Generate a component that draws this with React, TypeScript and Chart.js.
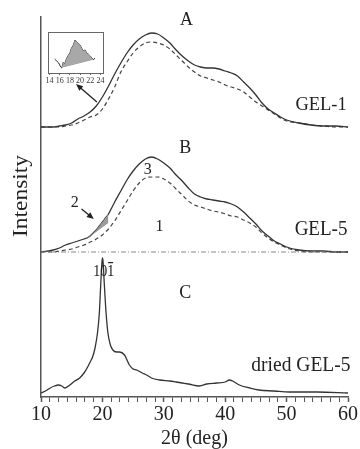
import React, { useEffect, useRef } from 'react';
import { Chart, registerables } from 'chart.js';

Chart.register(...registerables);

// ---------- data (relative intensities above each curve's own baseline) ----------
const OFFSET_A = 270; // GEL-1 stack offset
const OFFSET_B = 145; // GEL-5 stack offset
const OFFSET_C = 4;   // dried GEL-5 stack offset

const A_X = [10, 12, 13, 14, 15, 16, 17, 18, 19, 20, 21, 22, 23, 24, 25, 26, 27, 28, 29, 30, 31, 32, 33, 34, 35, 36, 37, 38, 39, 40, 41, 42, 43, 44, 45, 46, 47, 48, 49, 50, 52, 54, 56, 58, 60];
const A_SOLID = [0, 0, 1, 2, 4, 8, 11, 15, 21, 30, 41, 53, 64, 74, 82, 88, 92, 94, 93, 89, 84, 77, 71, 66, 62, 60, 59, 59, 58, 56, 54, 51, 45, 39, 32, 24, 18, 14, 10, 7, 4, 2, 1, 1, 0];
const A_DASHED = [0, 0, 0, 1, 2, 4, 7, 10, 12, 18, 28, 40, 55, 65, 74, 80, 84, 85, 84, 82, 78, 72, 66, 60, 55, 51, 49, 47, 45, 42, 40, 38, 35, 30, 25, 21, 17, 13, 9, 6, 4, 2, 1, 0, 0];

const B_X = [10, 12, 13, 14, 15, 16, 17, 17.5, 18, 18.5, 19, 19.5, 20, 20.5, 21, 21.5, 22, 23, 24, 25, 26, 27, 28, 29, 30, 31, 32, 33, 34, 35, 36, 37, 38, 39, 40, 41, 42, 43, 44, 45, 46, 47, 48, 49, 50, 52, 54, 56, 58, 60];
const B_SOLID = [0, 2, 4, 7, 9, 11, 13, 14, 16, 19, 22, 26, 30, 34, 38, 44, 50, 61, 72, 81, 88, 93, 95, 93, 89, 84, 77, 71, 64, 58, 55, 53, 52, 51, 50, 48, 45, 40, 34, 28, 21, 16, 11, 8, 5, 2, 1, 1, 0, 0];
const B_DASHED = [0, 0, 1, 2, 3, 5, 7, 8, 10, 11, 13, 15, 17, 20, 23, 27, 31, 41, 51, 61, 69, 74, 75, 75, 73, 69, 63, 57, 51, 47, 45, 43, 41, 40, 38, 36, 35, 32, 29, 25, 19, 14, 10, 7, 4, 1, 0, 0, 0, 0];
// linear base under the shaded crystalline area "2"
const SHADE_X = [17.5, 21];
const SHADE_BASE = [13, 29];

const C_X = [10, 11, 11.5, 12.2, 12.8, 13.4, 13.9, 14.7, 15.5, 16.3, 17, 17.6, 18, 18.4, 18.8, 19.2, 19.5, 19.7, 19.9, 20, 20.1, 20.3, 20.6, 20.9, 21.3, 21.7, 22.3, 22.8, 23.6, 24.4, 25, 25.6, 26.5, 27.2, 28, 29.3, 31, 32, 33, 34, 35.8, 37, 38.6, 40, 40.7, 41.2, 42.3, 44, 45.5, 48, 50.4, 55, 60];
const C_SOLID = [0, 3, 5, 7, 8, 7, 5, 8, 12, 15, 20, 26, 31, 36, 45, 60, 80, 105, 128, 135, 132, 110, 80, 60, 48, 43, 41, 41, 38, 28, 24, 23, 20, 18, 15, 13, 12, 11, 10, 9, 7, 9, 10, 11, 13, 12, 8, 5, 3, 2, 1, 1, 0];

// inset (GEL-1, 14-24 deg)
const INSET_X = [15, 15.4, 15.8, 16.2, 16.4, 16.7, 17, 17.3, 17.6, 18, 18.3, 18.6, 19, 19.3, 19.6, 20, 20.3, 20.6, 21, 21.3, 21.6, 22, 22.3, 22.6, 22.9];
const INSET_Y = [14, 12, 10, 6, 5, 11, 9, 14, 17, 20, 25, 27, 33, 31, 30, 28, 25, 22, 23, 20, 19, 17, 15, 13, 15];
const INSET_BASE_X = [16.4, 22.6];
const INSET_BASE_Y = [5, 13];
const INSET_TICKS = [14, 16, 18, 20, 22, 24];

// x axis ticks
const MAJOR_TICKS = [10, 20, 30, 40, 50, 60];
const MINOR_PER_MAJOR = 7;

// ---------- helpers ----------
const SERIF = "'Liberation Serif', 'Times New Roman', serif";
const pts = (xs: number[], ys: number[], off: number) => xs.map((x, i) => ({ x, y: ys[i] + off }));
const within = (xs: number[], ys: number[], lo: number, hi: number, off: number) =>
  pts(xs, ys, off).filter((p) => p.x >= lo && p.x <= hi);

const X_TICK_POSITIONS: number[] = MAJOR_TICKS.flatMap((m, i) =>
  i === MAJOR_TICKS.length - 1
    ? [m]
    : Array.from({ length: MINOR_PER_MAJOR }, (_, j) => (j === 0 ? m : m + (j * (MAJOR_TICKS[i + 1] - m)) / MINOR_PER_MAJOR))
);

type Note = { text: string; x: number; y: number; size: number; align: CanvasTextAlign; k?: number; overline?: boolean };
const NOTES: Note[] = [
  { text: 'A', x: 33.7, y: 377, size: 18, align: 'center' },
  { text: 'B', x: 33.5, y: 249, size: 18, align: 'center' },
  { text: 'C', x: 33.5, y: 104, size: 18, align: 'center' },
  { text: 'GEL-1', x: 59.8, y: 292, size: 18.5, align: 'right' },
  { text: 'GEL-5', x: 59.9, y: 167, size: 19, align: 'right' },
  { text: 'dried GEL-5', x: 60.4, y: 31, size: 19.5, align: 'right' },
  { text: '3', x: 27.4, y: 227, size: 16, align: 'center' },
  { text: '1', x: 29.3, y: 170, size: 16, align: 'center' },
  { text: '2', x: 15.5, y: 194, size: 16, align: 'center' },
  { text: '101', x: 20.2, y: 126, size: 14, align: 'center', k: 1.25, overline: true },
];
const ARROWS = [
  { from: [19.1, 295], to: [15.7, 313] },
  { from: [16.6, 188], to: [18.6, 178] },
];

function drawText(ctx: CanvasRenderingContext2D, n: Note, px: number, py: number) {
  ctx.save();
  ctx.translate(px, py);
  ctx.scale(1, n.k ?? 1.06);
  ctx.font = `${n.size}px ${SERIF}`;
  ctx.fillStyle = '#222';
  ctx.textAlign = n.align;
  ctx.textBaseline = 'middle';
  ctx.fillText(n.text, 0, 0);
  if (n.overline) {
    const w = ctx.measureText(n.text).width;
    const w1 = ctx.measureText('1').width;
    const left = n.align === 'center' ? -w / 2 : n.align === 'right' ? -w : 0;
    ctx.strokeStyle = '#222';
    ctx.lineWidth = 1;
    ctx.beginPath();
    ctx.moveTo(left + w - w1 + 1, -n.size * 0.48);
    ctx.lineTo(left + w - 1, -n.size * 0.48);
    ctx.stroke();
  }
  ctx.restore();
}

const notesPlugin = {
  id: 'notes',
  afterDraw(chart: any) {
    const { ctx, scales } = chart;
    const xs = scales.x;
    const ys = scales.y;
    NOTES.forEach((n) => drawText(ctx, n, xs.getPixelForValue(n.x), ys.getPixelForValue(n.y)));
    // y title
    ctx.save();
    ctx.translate(22, 196);
    ctx.rotate(-Math.PI / 2);
    ctx.scale(1.17, 1);
    ctx.font = `20px ${SERIF}`;
    ctx.fillStyle = '#222';
    ctx.textAlign = 'center';
    ctx.textBaseline = 'middle';
    ctx.fillText('Intensity', 0, 0);
    ctx.restore();
    // arrows
    ARROWS.forEach((a) => {
      const x1 = xs.getPixelForValue(a.from[0]);
      const y1 = ys.getPixelForValue(a.from[1]);
      const x2 = xs.getPixelForValue(a.to[0]);
      const y2 = ys.getPixelForValue(a.to[1]);
      const ang = Math.atan2(y2 - y1, x2 - x1);
      ctx.save();
      ctx.strokeStyle = '#222';
      ctx.fillStyle = '#222';
      ctx.lineWidth = 1.3;
      ctx.beginPath();
      ctx.moveTo(x1, y1);
      ctx.lineTo(x2 - 5 * Math.cos(ang), y2 - 5 * Math.sin(ang));
      ctx.stroke();
      ctx.beginPath();
      ctx.moveTo(x2, y2);
      ctx.lineTo(x2 - 7 * Math.cos(ang) + 3 * Math.sin(ang), y2 - 7 * Math.sin(ang) - 3 * Math.cos(ang));
      ctx.lineTo(x2 - 7 * Math.cos(ang) - 3 * Math.sin(ang), y2 - 7 * Math.sin(ang) + 3 * Math.cos(ang));
      ctx.closePath();
      ctx.fill();
      ctx.restore();
    });
  },
};

const boxPlugin = {
  id: 'box',
  afterDraw(chart: any) {
    const { ctx, chartArea: a } = chart;
    ctx.save();
    ctx.strokeStyle = '#666';
    ctx.lineWidth = 1;
    ctx.strokeRect(Math.round(a.left) + 0.5, Math.round(a.top) + 0.5, Math.round(a.right - a.left), Math.round(a.bottom - a.top));
    ctx.restore();
  },
};

const solidLine = { borderColor: '#333', borderWidth: 1.3, pointRadius: 0, fill: false, cubicInterpolationMode: 'monotone' as const };
const dashedLine = { borderColor: '#444', borderWidth: 1.2, borderDash: [4, 3], pointRadius: 0, fill: false, cubicInterpolationMode: 'monotone' as const };

export default function App() {
  const mainRef = useRef<HTMLCanvasElement>(null);
  const insetRef = useRef<HTMLCanvasElement>(null);

  useEffect(() => {
    const main = new Chart(mainRef.current as HTMLCanvasElement, {
      type: 'line',
      data: {
        datasets: [
          { label: 'GEL-1', data: pts(A_X, A_SOLID, OFFSET_A), ...solidLine },
          { label: 'GEL-1 fit', data: pts(A_X, A_DASHED, OFFSET_A), ...dashedLine },
          { label: 'GEL-5 baseline', data: [{ x: 10, y: OFFSET_B }, { x: 60, y: OFFSET_B }], borderColor: '#888', borderWidth: 1, borderDash: [5, 2, 1, 2], pointRadius: 0, fill: false },
          { label: 'shade base', data: pts(SHADE_X, SHADE_BASE, OFFSET_B), borderWidth: 0, borderColor: 'rgba(0,0,0,0)', pointRadius: 0, fill: false },
          { label: 'shade', data: within(B_X, B_SOLID, SHADE_X[0], SHADE_X[1], OFFSET_B), borderWidth: 0, borderColor: 'rgba(0,0,0,0)', pointRadius: 0, fill: { target: '-1', above: '#9a9a9a', below: 'rgba(0,0,0,0)' }, cubicInterpolationMode: 'monotone' },
          { label: 'GEL-5', data: pts(B_X, B_SOLID, OFFSET_B), ...solidLine },
          { label: 'GEL-5 fit', data: pts(B_X, B_DASHED, OFFSET_B), ...dashedLine },
          { label: 'dried GEL-5', data: pts(C_X, C_SOLID, OFFSET_C), ...solidLine },
        ] as any,
      },
      options: {
        responsive: false,
        animation: false,
        parsing: false as any,
        normalized: true,
        layout: { padding: { top: 17, right: 12, left: 0, bottom: 0 } },
        plugins: { legend: { display: false }, tooltip: { enabled: false } },
        scales: {
          x: {
            type: 'linear',
            min: 10,
            max: 60,
            afterBuildTicks: (s: any) => {
              s.ticks = X_TICK_POSITIONS.map((v) => ({ value: v }));
            },
            afterFit: (s: any) => {
              s.height = 52;
            },
            grid: { display: true, drawOnChartArea: false, drawTicks: true, tickLength: 5, color: '#555', tickWidth: (c: any) => (MAJOR_TICKS.includes(c.tick?.value) ? 1.5 : 1) },
            border: { display: true, color: '#555', width: 1.5 },
            ticks: {
              autoSkip: false,
              maxRotation: 0,
              minRotation: 0,
              padding: 1,
              color: '#222',
              font: { family: SERIF, size: 20 },
              callback: (v: any) => (MAJOR_TICKS.includes(Number(v)) ? String(v) : ''),
            },
            title: { display: true, text: '2θ (deg)', color: '#222', font: { family: SERIF, size: 20, lineHeight: 1 }, padding: 0 },
          },
          y: {
            type: 'linear',
            min: 0,
            max: 380,
            afterFit: (s: any) => {
              s.width = 41;
            },
            grid: { display: false },
            ticks: { display: false },
            border: { display: true, color: '#555', width: 1.5 },
          },
        },
      } as any,
      plugins: [notesPlugin],
    });

    const inset = new Chart(insetRef.current as HTMLCanvasElement, {
      type: 'line',
      data: {
        datasets: [
          { label: 'base', data: pts(INSET_BASE_X, INSET_BASE_Y, 0), borderWidth: 0, borderColor: 'rgba(0,0,0,0)', pointRadius: 0, fill: false },
          { label: 'area', data: within(INSET_X, INSET_Y, INSET_BASE_X[0], INSET_BASE_X[1], 0), borderWidth: 0, borderColor: 'rgba(0,0,0,0)', pointRadius: 0, fill: { target: '-1', above: '#a8a8a8', below: 'rgba(0,0,0,0)' } },
          { label: 'GEL-1 detail', data: pts(INSET_X, INSET_Y, 0), borderColor: '#333', borderWidth: 1, pointRadius: 0, fill: false },
        ] as any,
      },
      options: {
        responsive: false,
        animation: false,
        parsing: false as any,
        layout: { padding: { top: 4, right: 5, left: 0, bottom: 0 } },
        plugins: { legend: { display: false }, tooltip: { enabled: false } },
        scales: {
          x: {
            type: 'linear',
            min: 13.7,
            max: 24.5,
            afterBuildTicks: (s: any) => {
              s.ticks = INSET_TICKS.map((v) => ({ value: v }));
            },
            afterFit: (s: any) => {
              s.height = 15;
            },
            grid: { display: true, drawOnChartArea: false, tickLength: 2, color: '#666' },
            border: { display: true, color: '#666', width: 1 },
            ticks: { autoSkip: false, maxRotation: 0, minRotation: 0, padding: 1, color: '#333', font: { family: SERIF, size: 8 } },
          },
          y: {
            type: 'linear',
            min: 0,
            max: 41,
            afterFit: (s: any) => {
              s.width = 4;
            },
            grid: { display: false },
            ticks: { display: false },
            border: { display: true, color: '#666', width: 1 },
          },
        },
      } as any,
      plugins: [boxPlugin],
    });

    return () => {
      main.destroy();
      inset.destroy();
    };
  }, []);

  return (
    <div style={{ position: 'absolute', left: 0, top: 0, width: 360, height: 449, background: '#fff' }}>
      <canvas ref={mainRef} width={360} height={449} style={{ position: 'absolute', left: 0, top: 0, width: 360, height: 449, display: 'block' }} />
      <canvas ref={insetRef} width={64} height={60} style={{ position: 'absolute', left: 44, top: 28, width: 64, height: 60, display: 'block' }} />
    </div>
  );
}
